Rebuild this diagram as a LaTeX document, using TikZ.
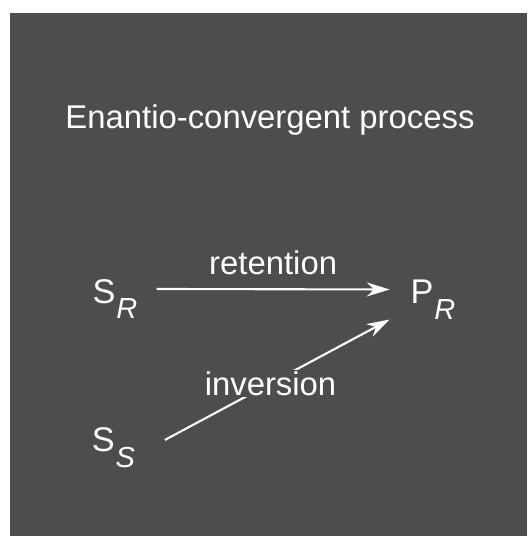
\documentclass[tikz,border=0pt]{standalone}
\usepackage{fontspec}
\setmainfont{Liberation Sans}
\usetikzlibrary{arrows.meta,positioning}
\definecolor{slate}{RGB}{77,77,77}

\newcommand{\chem}[2]{\fontsize{19.5}{22}\selectfont #1\kern0.5pt\raisebox{-9pt}{\fontsize{16.5}{19}\selectfont\itshape #2}}

\begin{document}
\begin{tikzpicture}[x=0.02cm,y=-0.02cm,
    lbl/.style={text=white,font=\fontsize{18.7}{22}\selectfont},
    species/.style={lbl,inner sep=0pt,outer xsep=11pt},
    arr/.style={white,line width=1.2pt,-{Stealth[length=13pt,width=8pt]}}]
    % frame
    \useasboundingbox (0,0) rectangle (527,536);
    \fill[slate] (10,13) rectangle (527,536);

    % title
    \node[lbl] (title) at (270,120) {Enantio-convergent process};

    % species
    \node[species] (sr) at (115,299) {\chem{S}{R}};
    \node[species,outer xsep=12pt] (pr) at (433,299.5) {\chem{P}{R}};
    \node[species,outer xsep=17pt] (ss) at (113.5,447.5) {\chem{S}{S}};

    % pathways
    \draw[arr] ([yshift=5.7pt]sr.east) -- ([yshift=5.7pt]pr.west)
        node[lbl,midway,above=4pt] (ret) {retention};
    \draw[arr] ([yshift=4.3pt]ss.east) -- (pr.south west)
        node[lbl,pos=0.47,fill=slate,inner sep=1pt] (inv) {inversion};
\end{tikzpicture}
\end{document}
